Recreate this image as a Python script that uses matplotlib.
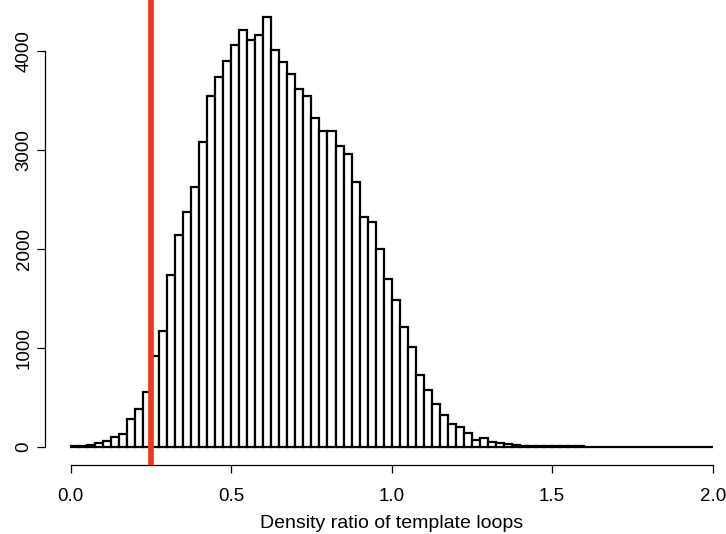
import matplotlib
matplotlib.use('Agg')
import matplotlib.pyplot as plt

import numpy as np

# histogram of density ratio, bin width 0.025 from 0 to 2
bin_start = 0.0
bin_width = 0.025
counts = [
    8, 14, 22, 40, 64, 104, 135, 283, 381, 555,
    915, 1172, 1737, 2138, 2374, 2630, 3081, 3545, 3734, 3902,
    4061, 4212, 4108, 4165, 4347, 4010, 3886, 3765, 3613, 3549,
    3323, 3195, 3192, 3037, 2963, 2677, 2323, 2276, 2000, 1692,
    1485, 1212, 1010, 727, 576, 434, 320, 236, 202, 141,
    71, 88, 47, 37, 27, 20, 15, 12, 10, 8,
    7, 6, 5, 5, 4, 4, 3, 3, 3, 2,
    2, 2, 2, 1, 2, 1, 1, 1, 1, 1,
]
cutoff = 0.25

xticks = [0.0, 0.5, 1.0, 1.5, 2.0]
xticklabels = ['0.0', '0.5', '1.0', '1.5', '2.0']
yticks = [0, 1000, 2000, 3000, 4000]
xlabel = 'Density ratio of template loops'

plt.rcParams['font.family'] = ['Liberation Sans', 'DejaVu Sans']
plt.rcParams['font.size'] = 13.5

fig = plt.figure(figsize=(7.26, 5.34), dpi=100)
# R-like plot region, runs past the top and right edge of the picture
ax = fig.add_axes([0.062, 0.1292, 0.955, 0.905])

lefts = bin_start + bin_width * np.arange(len(counts))
ax.bar(lefts, counts, width=bin_width, align='edge',
       facecolor='white', edgecolor='black', linewidth=1.6, zorder=2)
ax.axvline(cutoff, color='#EE3A1C', linewidth=4.1, zorder=3)

ax.set_xlim(-0.08, 2.08)
ax.set_ylim(-182, 4700)

for side in ['top', 'right']:
    ax.spines[side].set_visible(False)
ax.spines['left'].set_bounds(0, 4000)
ax.spines['bottom'].set_bounds(0, 2)
ax.spines['left'].set_linewidth(0.9)
ax.spines['bottom'].set_linewidth(0.9)

ax.set_xticks(xticks)
ax.set_xticklabels(xticklabels)
ax.set_yticks(yticks)
ax.set_yticklabels([str(v) for v in yticks], rotation=90, va='center')
ax.tick_params(axis='both', direction='out', length=6, width=0.9)
ax.tick_params(axis='x', pad=10.5)
ax.tick_params(axis='y', pad=3)

ax.set_xlabel(xlabel, fontsize=14, labelpad=7)

fig.savefig('out.png', dpi=100)
